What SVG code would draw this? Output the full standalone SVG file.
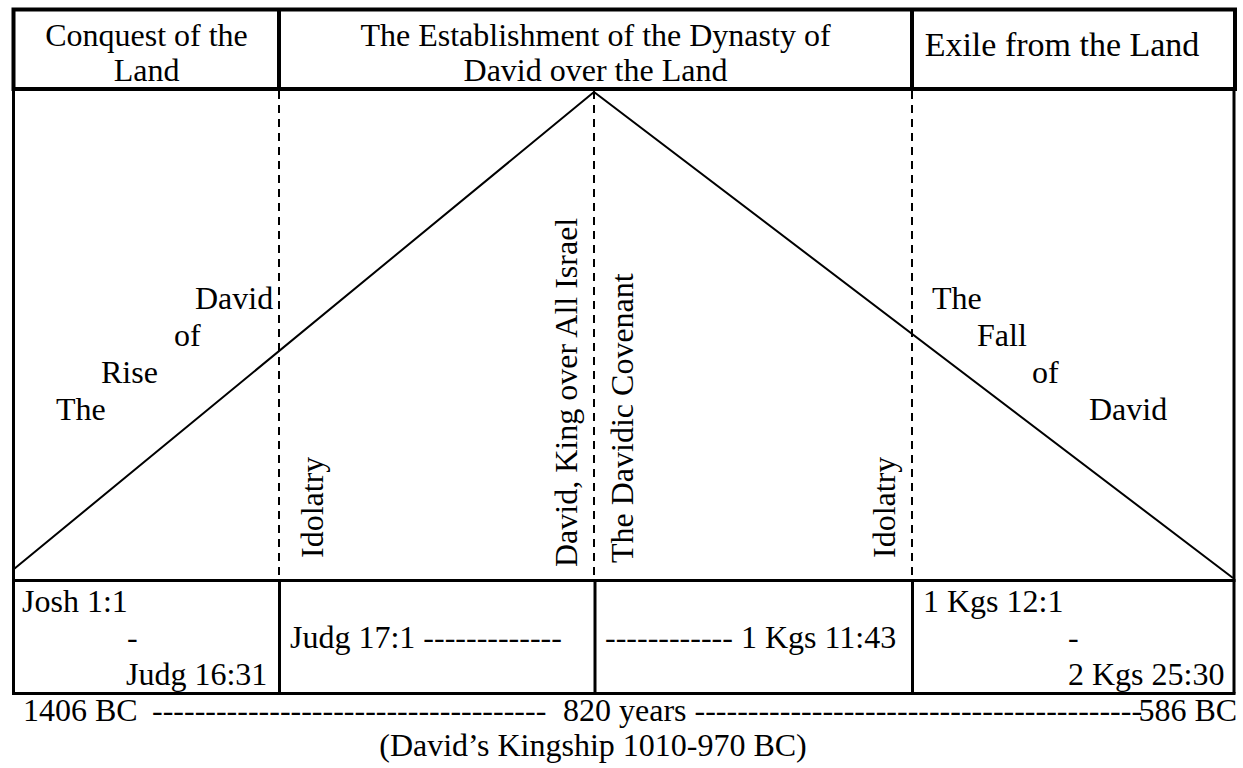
<svg xmlns="http://www.w3.org/2000/svg" width="1243" height="768" viewBox="0 0 1243 768">
<style>
text{font-family:"Liberation Serif","Times New Roman",serif;font-size:32px;fill:#000}
.c{text-anchor:middle}
.thick{stroke:#000;stroke-width:4;fill:none}
.frame{stroke:#000;stroke-width:3;fill:none}
.dash{stroke:#000;stroke-width:2;stroke-dasharray:8 6;fill:none}
.diag{stroke:#000;stroke-width:2;fill:none}
</style>
<rect width="1243" height="768" fill="#fff"/>
<g id="header">
<rect class="thick" x="13.5" y="9.5" width="1221.5" height="79.5"/>
<line class="thick" x1="279" y1="9.5" x2="279" y2="89"/>
<line class="thick" x1="912" y1="9.5" x2="912" y2="89"/>
</g>
<g id="head-conquest">
<text class="c" x="146.5" y="46">Conquest of the</text>
<text class="c" x="146.5" y="81">Land</text>
</g>
<g id="head-establishment">
<text class="c" x="595.5" y="46">The Establishment of the Dynasty of</text>
<text class="c" x="595.5" y="81">David over the Land</text>
</g>
<g id="head-exile">
<text class="c" x="1062" y="56" style="font-size:34px">Exile from the Land</text>
</g>
<g id="frame">
<line class="frame" x1="13.5" y1="89" x2="13.5" y2="693.5"/>
<line class="frame" x1="1234" y1="89" x2="1234" y2="693.5"/>
<line class="frame" x1="12" y1="580.5" x2="1235.5" y2="580.5"/>
<line class="frame" x1="12" y1="693.5" x2="1235.5" y2="693.5"/>
<line class="frame" x1="279.5" y1="580.5" x2="279.5" y2="693.5"/>
<line class="frame" x1="595" y1="580.5" x2="595" y2="693.5"/>
<line class="frame" x1="912.5" y1="580.5" x2="912.5" y2="693.5"/>
</g>
<g id="connectors">
<line class="dash" x1="279" y1="91" x2="279" y2="579"/>
<line class="dash" x1="594" y1="91" x2="594" y2="579"/>
<line class="dash" x1="912" y1="91" x2="912" y2="579"/>
<polyline class="diag" points="14,569 594,92 1233,578"/>
</g>
<g id="rise">
<text x="195" y="309">David</text>
<text x="174" y="346">of</text>
<text x="101" y="383">Rise</text>
<text x="56" y="420">The</text>
</g>
<g id="fall">
<text x="932" y="309">The</text>
<text x="977" y="346">Fall</text>
<text x="1032" y="383">of</text>
<text x="1089" y="420">David</text>
</g>
<g id="idolatry-left"><text transform="translate(323,558) rotate(-90)">Idolatry</text></g>
<g id="kingship"><text transform="translate(577,567) rotate(-90)">David, King over All Israel</text></g>
<g id="covenant"><text transform="translate(633,563) rotate(-90)">The Davidic Covenant</text></g>
<g id="idolatry-right"><text transform="translate(895,558) rotate(-90)">Idolatry</text></g>
<g id="ref-joshua">
<text x="22" y="612">Josh 1:1</text>
<text x="127" y="648">-</text>
<text x="126" y="685">Judg 16:31</text>
</g>
<g id="ref-judges"><text x="290" y="648">Judg 17:1 -------------</text></g>
<g id="ref-kings"><text x="605" y="648">------------ 1 Kgs 11:43</text></g>
<g id="ref-exile">
<text x="923" y="612">1 Kgs 12:1</text>
<text x="1068" y="648">-</text>
<text x="1068" y="685">2 Kgs 25:30</text>
</g>
<g id="timeline">
<text y="721"><tspan x="23">1406 BC</tspan><tspan x="152">-------------------------------------</tspan><tspan x="563">820 years</tspan><tspan x="694.5">------------------------------------------</tspan><tspan x="1138.5">586 BC</tspan></text>
<text class="c" x="593" y="756">(David’s Kingship 1010-970 BC)</text>
</g>
</svg>
